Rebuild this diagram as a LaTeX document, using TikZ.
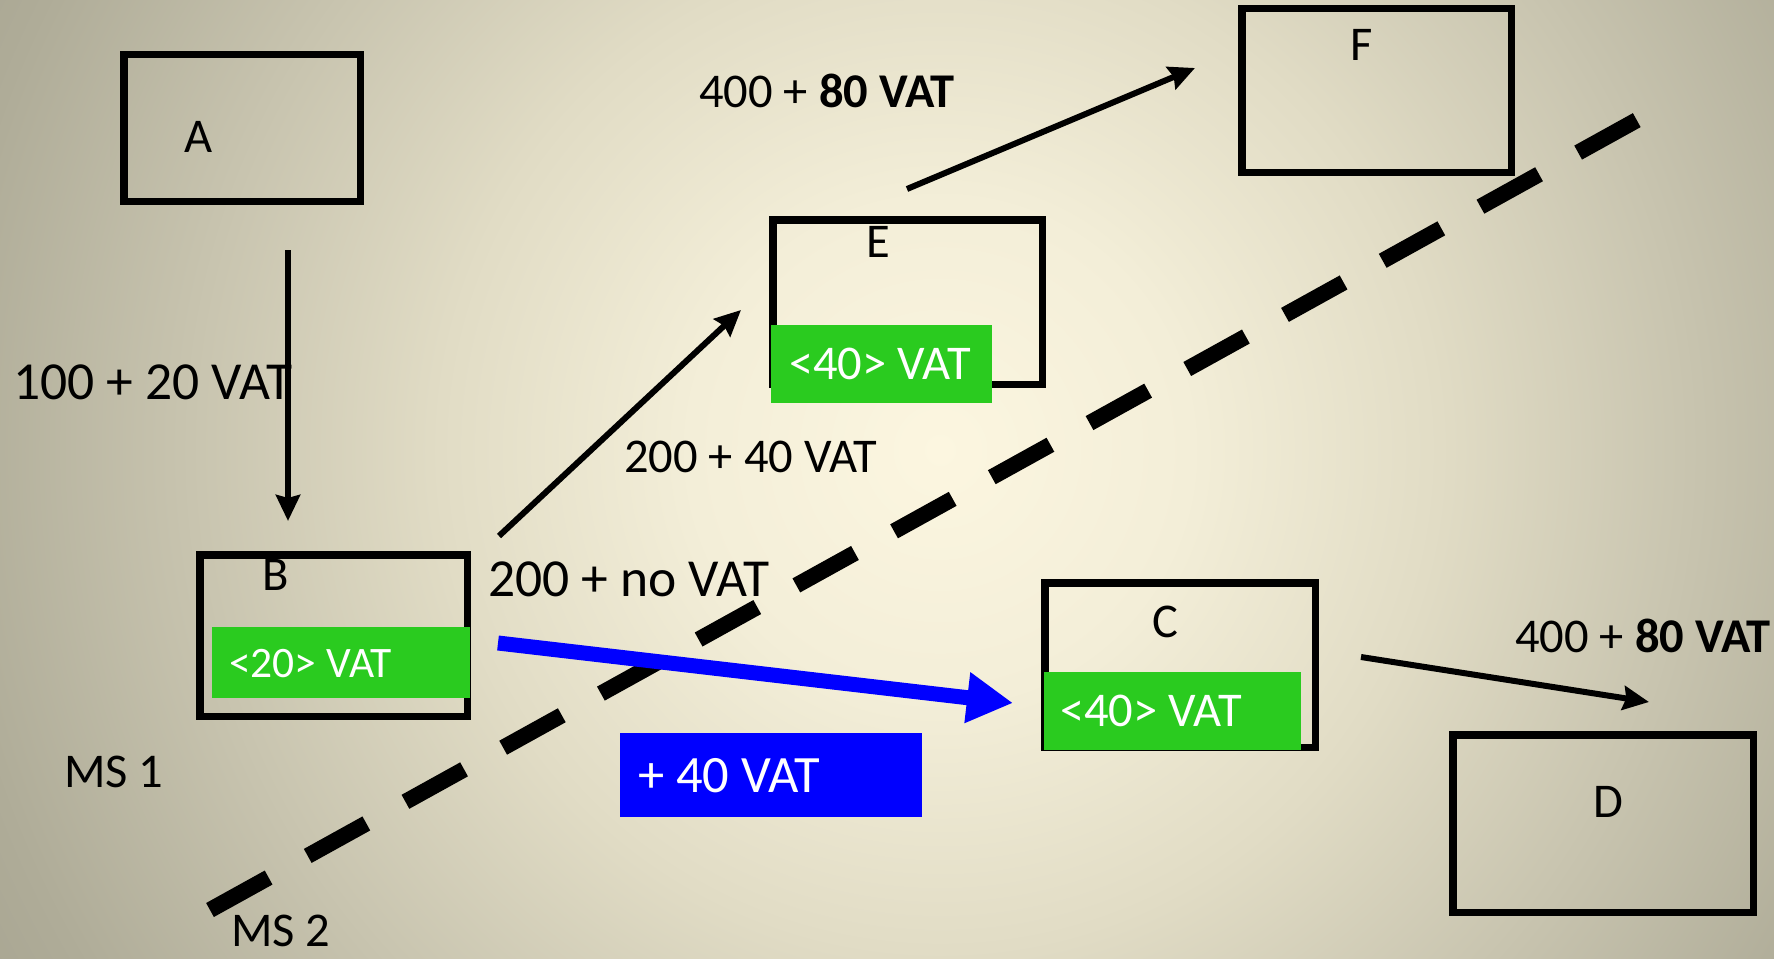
\documentclass[tikz,border=0pt]{standalone}
\usepackage{fontspec}
\setmainfont{Carlito}
\usetikzlibrary{arrows.meta}
\definecolor{bgA}{HTML}{FCF6E0}
\definecolor{bgB}{HTML}{F3EED8}
\definecolor{bgC}{HTML}{E1DCC5}
\definecolor{bgD}{HTML}{C8C4AF}
\definecolor{bgE}{HTML}{AFAC98}
\definecolor{bgF}{HTML}{A5A28F}
\definecolor{tagG}{HTML}{2ACB1F}
\definecolor{tagB}{HTML}{0000FF}
\pgfdeclareradialshading{bgshade}{\pgfpoint{0bp}{0bp}}{color(0bp)=(bgA); color(5.435bp)=(bgB); color(10.87bp)=(bgC); color(16.3bp)=(bgD); color(21.74bp)=(bgE); color(25bp)=(bgF); color(50bp)=(bgF)}
\newcommand\myfs[1]{\fontsize{#1}{#1}\selectfont}
\tikzset{
  box/.style={draw=black, line width=7.5pt, inner sep=0pt},
  gtag/.style={fill=tagG, inner sep=0pt, anchor=north west},
  btag/.style={fill=tagB, inner sep=0pt, anchor=north west},
  lbl/.style={inner sep=0pt, anchor=base west, text=black},
  wlbl/.style={inner sep=0pt, anchor=base west, text=white},
  arr/.style={line width=6pt, -{Stealth[length=26pt,width=24pt,inset=3pt]}},
  barr/.style={draw=tagB, line width=15pt, -{Triangle[length=46pt,width=48pt]}},
  border/.style={line width=16pt, dash pattern=on 67pt off 44.7pt}
}
\begin{document}
\begin{tikzpicture}[x=1pt,y=-1pt]
\useasboundingbox (0,0) rectangle (1774,958);
\begin{scope}
\clip (0,0) rectangle (1774,958);
\shade[shading=bgshade] (940,450) circle (1150pt);
\end{scope}

% boxes
\node[box, minimum width=236.5pt, minimum height=146.5pt] (A) at (242,128) {};
\node[box, minimum width=267.5pt, minimum height=161.5pt] (B) at (333.5,635.5) {};
\node[box, minimum width=269.5pt, minimum height=164.5pt] (E) at (907.5,302) {};
\node[box, minimum width=269.5pt, minimum height=163.5pt] (F) at (1376.5,90.5) {};
\node[box, minimum width=270.5pt, minimum height=164.5pt] (C) at (1180,665) {};
\node[box, minimum width=300.5pt, minimum height=177.5pt] (D) at (1603,823.5) {};

% box letters
\node[lbl, font=\myfs{48.5}] (lA) at (184,152) {A};
\node[lbl, font=\myfs{48.5}] (lB) at (262,590) {B};
\node[lbl, font=\myfs{48.5}] (lE) at (866,257) {E};
\node[lbl, font=\myfs{48.5}] (lF) at (1350,61) {F};
\node[lbl, font=\myfs{48.5}] (lC) at (1152,637) {C};
\node[lbl, font=\myfs{48.5}] (lD) at (1593,817) {D};

% green tags
\node[gtag, minimum width=258pt, minimum height=71pt] (gB) at (212,627) {};
\node[wlbl, font=\myfs{43.5}] (tB) at (229,677) {<20> VAT};
\node[gtag, minimum width=221pt, minimum height=78pt] (gE) at (771,325) {};
\node[wlbl, font=\myfs{48.5}] (tE) at (789,379) {<40> VAT};
\node[gtag, minimum width=257pt, minimum height=78pt] (gC) at (1044,672) {};
\node[wlbl, font=\myfs{48.5}] (tC) at (1060,726) {<40> VAT};

% blue tag
\node[btag, minimum width=302pt, minimum height=84pt] (gBl) at (620,733) {};
\node[wlbl, font=\myfs{52.5}] (tBl) at (638,792) {+ 40 VAT};

% text labels
\node[lbl, font=\myfs{53.5}] (l1) at (13,399) {100 + 20 VAT};
\node[lbl, font=\myfs{53.5}] (l2) at (488,596) {200 + no VAT};
\node[lbl, font=\myfs{48.5}] (l3) at (624,472) {200 + 40 VAT};
\node[lbl, font=\myfs{48.5}] (l4) at (699,107) {400 + \textbf{80 VAT}};
\node[lbl, font=\myfs{48.5}] (l5) at (1515,652) {400 + \textbf{80 VAT}};
\node[lbl, font=\myfs{48.5}] (ms1) at (64,787) {MS 1};
\node[lbl, font=\myfs{48.5}] (ms2) at (231,946) {MS 2};

% border line
\coordinate (bs) at (210,910);
\coordinate (be) at (1637,120);
\draw[border] (bs) -- (be);

% arrows
\coordinate (ab1) at (288,250);
\coordinate (ab2) at (288,521);
\draw[arr] (ab1) -- (ab2);
\coordinate (be1) at (499,536);
\coordinate (be2) at (741,310);
\draw[arr] (be1) -- (be2);
\coordinate (ef1) at (907,189);
\coordinate (ef2) at (1195,68);
\draw[arr] (ef1) -- (ef2);
\coordinate (cd1) at (1361,657);
\coordinate (cd2) at (1649,702);
\draw[arr] (cd1) -- (cd2);
\coordinate (bc1) at (498,643);
\coordinate (bc2) at (1013,703);
\draw[barr] (bc1) -- (bc2);
\end{tikzpicture}
\end{document}
